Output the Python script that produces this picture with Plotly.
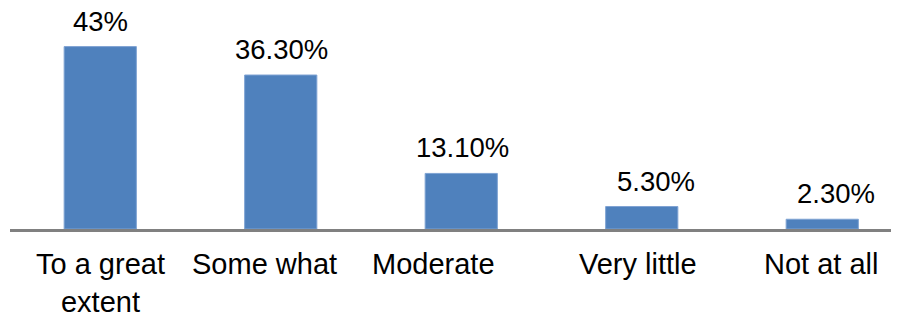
import plotly.graph_objects as go

categories = ["To a great extent", "Some what", "Moderate", "Very little", "Not at all"]
category_text = ["To a great<br>extent", "Some what", "Moderate", "Very little", "Not at all"]
values = [43, 36.3, 13.1, 5.3, 2.3]
value_labels = ["43%", "36.30%", "13.10%", "5.30%", "2.30%"]

# label placement tweaks (style only)
value_xshift = [0, 1, 1, 14, 14]
cat_xshift = [0, -16, -28, -4, -1]

FONT = "Liberation Sans, Arial, sans-serif"

fig = go.Figure()
fig.add_trace(go.Bar(
    x=list(range(len(categories))),
    y=values,
    width=0.4,
    marker=dict(color="#4F81BD", line=dict(color="#7FA3D3", width=1)),
    hoverinfo="skip",
))

for i, (v, lab) in enumerate(zip(values, value_labels)):
    fig.add_annotation(x=i, y=v, xref="x", yref="y", text=lab, showarrow=False,
                       yanchor="bottom", yshift=8, xshift=value_xshift[i],
                       font=dict(family=FONT, size=27.5, color="#000000"))

for i, lab in enumerate(category_text):
    fig.add_annotation(x=i, y=0, xref="x", yref="paper", text=lab, showarrow=False,
                       yanchor="top", yshift=-17, xshift=cat_xshift[i],
                       font=dict(family=FONT, size=29, color="#000000"))

fig.update_layout(
    width=891, height=305,
    margin=dict(l=2, r=0, t=0, b=84),
    paper_bgcolor="white", plot_bgcolor="white",
    showlegend=False,
)
fig.update_xaxes(range=[-0.5, -0.5 + 889 / 180.5], showline=True, linecolor="#808080",
                 linewidth=3, showticklabels=False, ticks="", showgrid=False, zeroline=False,
                 fixedrange=True)
fig.update_yaxes(range=[0, 52.1], visible=False, showgrid=False, zeroline=False, fixedrange=True)

fig.write_html("out.html")
